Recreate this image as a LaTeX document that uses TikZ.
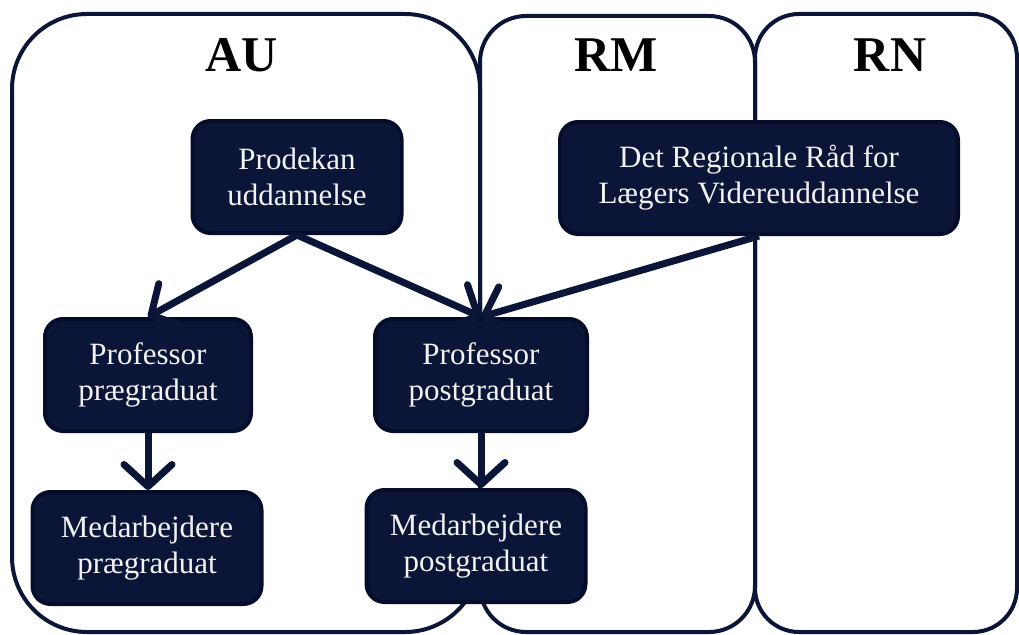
\documentclass[tikz,border=0pt]{standalone}
\usepackage{fontspec}
\setmainfont{Liberation Serif}
\usetikzlibrary{graphs,arrows.meta}
\definecolor{navy}{HTML}{0B1537}
\definecolor{navyline}{HTML}{060D2B}
\definecolor{paper}{HTML}{F2F2F2}

\begin{document}
\begin{tikzpicture}[x=1pt,y=-1pt,
    every node/.style={align=center},
    unit/.style={draw=navy,line width=4pt},
    title/.style={font=\bfseries\fontsize{50}{60}\selectfont},
    box/.style={draw=navyline,fill=navy,line width=4pt,rounded corners=18pt,
      minimum height=112pt,inner sep=0pt,text=paper,font=\fontsize{31}{36}\selectfont},
    link/.style={draw=navy,line width=7pt,->},
    >={Straight Barb[length=22pt,width=48pt,round]}]
  \useasboundingbox (0,0) rectangle (1019,634);
  \draw[unit,rounded corners=75pt] (12,14) rectangle (480,632);
  \draw[unit,rounded corners=46pt] (480,16) rectangle (755,632);
  \draw[unit,rounded corners=44pt] (755,14) rectangle (1017,632);

  \node[title] (au) at (242,55) {AU};
  \node[title] (rm) at (616,55) {RM};
  \node[title] (rn) at (890,55) {RN};

  \node[box,minimum width=209pt] (pd) at (297,177) {Prodekan\\uddannelse};
  \node[box,minimum width=398pt] (rad) at (759,178) {Det Regionale Råd for\\Lægers Videreuddannelse};
  \node[box,minimum width=206pt] (pp) at (148,375) {Professor\\prægraduat};
  \node[box,minimum width=212pt] (pq) at (481,375) {Professor\\postgraduat};
  \node[box,minimum width=229pt] (mp) at (147,548) {Medarbejdere\\prægraduat};
  \node[box,minimum width=219pt] (mq) at (476,546) {Medarbejdere\\postgraduat};

  \draw[link] (pd.south) -- (pp.north);
  \draw[link] (pd.south) -- (pq.north);
  \draw[link] (rad.south) -- (pq.north);
  \draw[link] (pp.south) -- (pp.south |- mp.north);
  \draw[link] (pq.south) -- (pq.south |- mq.north);
\end{tikzpicture}
\end{document}
